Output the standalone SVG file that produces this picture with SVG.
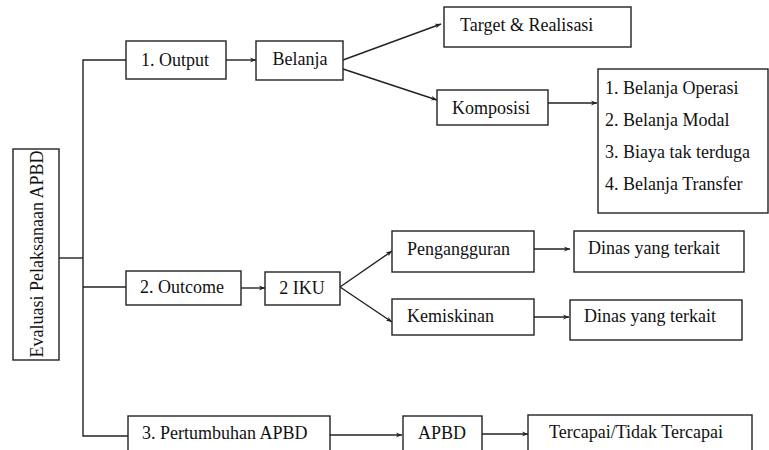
<svg xmlns="http://www.w3.org/2000/svg" width="769" height="450" viewBox="0 0 769 450">
<defs>
<marker id="ah" viewBox="0 0 10 10" refX="10" refY="5" markerWidth="6" markerHeight="6" orient="auto" markerUnits="userSpaceOnUse">
<path d="M0,1 L10,5 L0,9 L3,5 Z" fill="#222"/>
</marker>
</defs>
<style>
rect{fill:#fff;stroke:#222;stroke-width:1.4}
text{font-family:'Liberation Serif','Tinos','DejaVu Serif',serif;font-size:18px;fill:#111}
.c{text-anchor:middle}
.ln{fill:none;stroke:#222;stroke-width:1.4}
.ar{fill:none;stroke:#222;stroke-width:1.4;marker-end:url(#ah)}
</style>
<rect x="0" y="0" width="769" height="450" style="fill:#fff;stroke:none"/>
<g id="connectors">
<polyline class="ln" points="126,60 83,60 83,436 128,436"/>
<line class="ln" x1="59" y1="258" x2="83" y2="258"/>
<line class="ln" x1="83" y1="287" x2="126" y2="287"/>
<line class="ar" x1="226" y1="60" x2="256" y2="60"/>
<line class="ar" x1="343" y1="60" x2="441" y2="24"/>
<line class="ar" x1="343" y1="69" x2="437" y2="100"/>
<line class="ar" x1="548" y1="103" x2="597" y2="103"/>
<line class="ar" x1="241" y1="288" x2="265" y2="288"/>
<line class="ar" x1="340" y1="287" x2="392" y2="251"/>
<line class="ar" x1="340" y1="287" x2="392" y2="322"/>
<line class="ar" x1="534" y1="249" x2="570" y2="249"/>
<line class="ar" x1="534" y1="317" x2="569" y2="317"/>
<line class="ar" x1="330" y1="435" x2="402" y2="435"/>
<line class="ar" x1="482" y1="434" x2="528" y2="434"/>
</g>
<g id="evaluasi">
<rect x="13" y="149" width="46" height="211"/>
<text class="c" font-family="Liberation Serif, serif" transform="translate(43,254) rotate(-90)">Evaluasi Pelaksanaan APBD</text>
</g>
<g id="output">
<rect x="126" y="41" width="100" height="38"/>
<text class="c" x="175" y="66">1. Output</text>
</g>
<g id="belanja">
<rect x="256" y="41" width="87" height="39"/>
<text class="c" x="300" y="65">Belanja</text>
</g>
<g id="target">
<rect x="444" y="7" width="187" height="40"/>
<text x="460" y="31">Target &amp; Realisasi</text>
</g>
<g id="komposisi">
<rect x="437" y="90" width="111" height="35"/>
<text x="452" y="114">Komposisi</text>
</g>
<g id="list">
<rect x="598" y="69" width="170" height="144"/>
<text x="605" y="94">1. Belanja Operasi</text>
<text x="605" y="126">2. Belanja Modal</text>
<text x="605" y="158">3. Biaya tak terduga</text>
<text x="605" y="190">4. Belanja Transfer</text>
</g>
<g id="outcome">
<rect x="126" y="271" width="115" height="34"/>
<text x="140" y="293">2. Outcome</text>
</g>
<g id="iku">
<rect x="265" y="272" width="75" height="33"/>
<text class="c" x="302" y="294">2 IKU</text>
</g>
<g id="pengangguran">
<rect x="392" y="231" width="142" height="41"/>
<text x="407" y="255">Pengangguran</text>
</g>
<g id="dinas1">
<rect x="574" y="231" width="170" height="41"/>
<text x="588" y="254">Dinas yang terkait</text>
</g>
<g id="kemiskinan">
<rect x="392" y="299" width="142" height="36"/>
<text x="407" y="322">Kemiskinan</text>
</g>
<g id="dinas2">
<rect x="570" y="300" width="172" height="40"/>
<text x="584" y="322">Dinas yang terkait</text>
</g>
<g id="pertumbuhan">
<rect x="128" y="416" width="202" height="44"/>
<text x="142" y="439">3. Pertumbuhan APBD</text>
</g>
<g id="apbd">
<rect x="403" y="416" width="79" height="44"/>
<text class="c" x="442" y="439">APBD</text>
</g>
<g id="tercapai">
<rect x="528" y="415" width="224" height="45"/>
<text x="549" y="438">Tercapai/Tidak Tercapai</text>
</g>
</svg>
